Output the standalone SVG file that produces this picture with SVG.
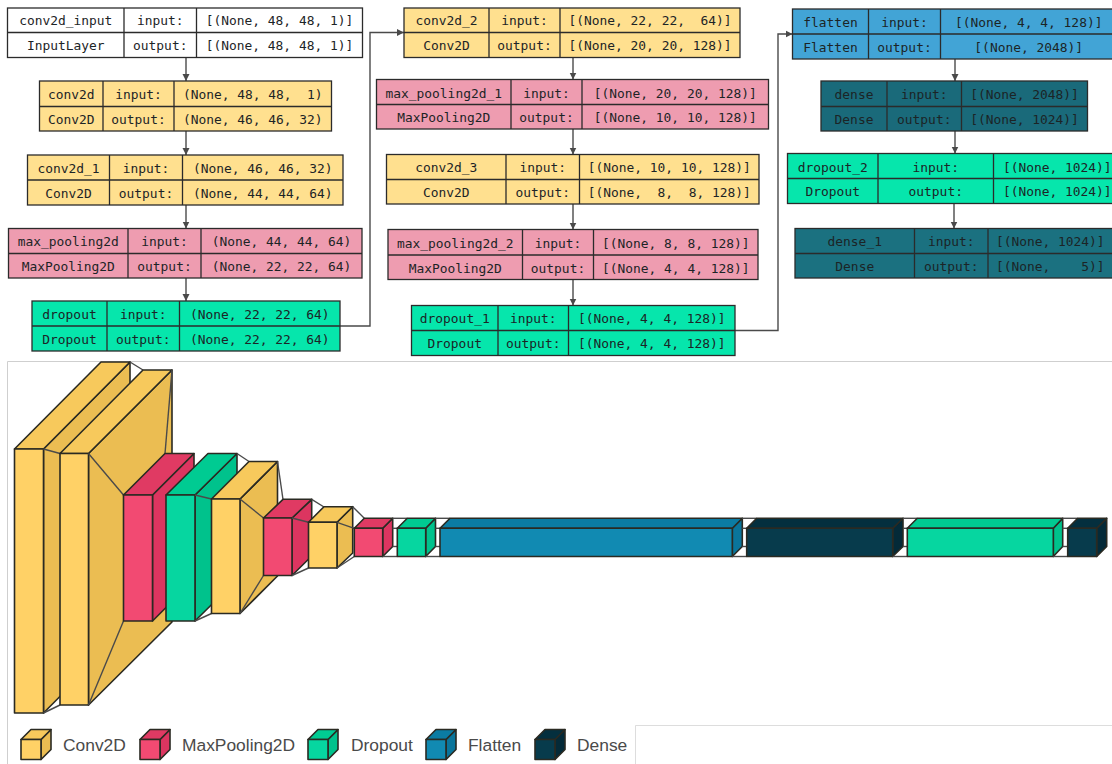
<svg xmlns="http://www.w3.org/2000/svg" width="1112" height="764" viewBox="0 0 1112 764">
<style>
text.t{font-family:"DejaVu Sans Mono","Liberation Mono",monospace;font-size:12.9px;fill:#1c2426;text-anchor:middle;white-space:pre}
text.l{font-family:"Liberation Sans",Arial,sans-serif;font-size:17.4px;fill:#4a4a4a}
.g rect,.g path{stroke:#2b2b2b;stroke-width:1.3}
.w{fill:#fff}.y{fill:#ffe08f}.p{fill:#ee9cb0}.d{fill:#06e6ac}.b{fill:#42a4d6}.k{fill:#1a6a7a}.k2{fill:#1b7180}
.c{fill:none;stroke:#4a4a4a;stroke-width:1.4}
.s polygon{stroke:#2a2a22;stroke-width:1.6;stroke-linejoin:round}
.s line{stroke:#4a4a4a;stroke-width:1.4}
.cf{fill:#ffd166}.ct{fill:#f7c95c}.cs{fill:#ebbd52}
.rf{fill:#f24a72}.rt{fill:#e03a63}.rs{fill:#dc3560}
.df{fill:#06d6a0}.dt{fill:#00cb92}.ds{fill:#00c28c}
.ff{fill:#118ab2}.ft{fill:#0b7ca3}.fs{fill:#0a759b}
.nf{fill:#073b4c}.nt{fill:#042f3e}.ns{fill:#042a38}
.frame{fill:none;stroke:#cfcfcf;stroke-width:1}
</style>
<defs>
<marker id="a" markerUnits="userSpaceOnUse" markerWidth="8" markerHeight="8" refX="7" refY="4" orient="auto"><path d="M0,0.5 L7,4 L0,7.5 Z" fill="#4a4a4a"/></marker>
</defs>
<rect width="1112" height="764" fill="#fff"/>

<g id="connectors">
<path class="c" marker-end="url(#a)" d="M186,57.5V81"/>
<path class="c" marker-end="url(#a)" d="M186,131V155"/>
<path class="c" marker-end="url(#a)" d="M186,205V228.5"/>
<path class="c" marker-end="url(#a)" d="M186,278V301"/>
<path class="c" marker-end="url(#a)" d="M340,326H370V32.5H404"/>
<path class="c" marker-end="url(#a)" d="M573,57.5V79.5"/>
<path class="c" marker-end="url(#a)" d="M573,129V154.5"/>
<path class="c" marker-end="url(#a)" d="M573,204V229.5"/>
<path class="c" marker-end="url(#a)" d="M573,279.5V305.5"/>
<path class="c" marker-end="url(#a)" d="M735,330.5H778V34H792.5"/>
<path class="c" marker-end="url(#a)" d="M955,59V81"/>
<path class="c" marker-end="url(#a)" d="M955,131V153.5"/>
<path class="c" marker-end="url(#a)" d="M954,203.5V228.5"/>
</g>

<g id="conv2d_input" class="g"><rect class="w" x="7.5" y="8" width="355" height="49.5"/><path d="M7.5,32.5H362.5M124,8V57.5M196.5,8V57.5"/>
<text class="t" x="65.75" y="25">conv2d_input</text><text class="t" x="160.25" y="25">input:</text><text class="t" x="279.5" y="25">[(None, 48, 48, 1)]</text>
<text class="t" x="65.75" y="50">InputLayer</text><text class="t" x="160.25" y="50">output:</text><text class="t" x="279.5" y="50">[(None, 48, 48, 1)]</text></g>

<g id="conv2d" class="g"><rect class="y" x="39.5" y="81" width="292" height="50"/><path d="M39.5,106.5H331.5M103,81V131M174,81V131"/>
<text class="t" x="71.25" y="99">conv2d</text><text class="t" x="138.5" y="99">input:</text><text class="t" x="252.75" y="99">(None, 48, 48,  1)</text>
<text class="t" x="71.25" y="124">Conv2D</text><text class="t" x="138.5" y="124">output:</text><text class="t" x="252.75" y="124">(None, 46, 46, 32)</text></g>

<g id="conv2d_1" class="g"><rect class="y" x="27.5" y="155" width="315.5" height="50"/><path d="M27.5,180H343M109.5,155V205M182.5,155V205"/>
<text class="t" x="68.5" y="172.5">conv2d_1</text><text class="t" x="146" y="172.5">input:</text><text class="t" x="262.75" y="172.5">(None, 46, 46, 32)</text>
<text class="t" x="68.5" y="197.5">Conv2D</text><text class="t" x="146" y="197.5">output:</text><text class="t" x="262.75" y="197.5">(None, 44, 44, 64)</text></g>

<g id="max_pooling2d" class="g"><rect class="p" x="8.5" y="228.5" width="353.5" height="49.5"/><path d="M8.5,253.5H362M128,228.5V278M201,228.5V278"/>
<text class="t" x="68.25" y="246">max_pooling2d</text><text class="t" x="164.5" y="246">input:</text><text class="t" x="281.5" y="246">(None, 44, 44, 64)</text>
<text class="t" x="68.25" y="271">MaxPooling2D</text><text class="t" x="164.5" y="271">output:</text><text class="t" x="281.5" y="271">(None, 22, 22, 64)</text></g>

<g id="dropout" class="g"><rect class="d" x="32" y="301" width="308" height="50"/><path d="M32,326H340M107,301V351M179.5,301V351"/>
<text class="t" x="69.5" y="319">dropout</text><text class="t" x="143.25" y="319">input:</text><text class="t" x="259.75" y="319">(None, 22, 22, 64)</text>
<text class="t" x="69.5" y="344">Dropout</text><text class="t" x="143.25" y="344">output:</text><text class="t" x="259.75" y="344">(None, 22, 22, 64)</text></g>

<g id="conv2d_2" class="g"><rect class="y" x="404" y="8" width="336" height="49.5"/><path d="M404,32.5H740M489,8V57.5M560,8V57.5"/>
<text class="t" x="446.5" y="25">conv2d_2</text><text class="t" x="524.5" y="25">input:</text><text class="t" x="650" y="25">[(None, 22, 22,  64)]</text>
<text class="t" x="446.5" y="50">Conv2D</text><text class="t" x="524.5" y="50">output:</text><text class="t" x="650" y="50">[(None, 20, 20, 128)]</text></g>

<g id="max_pooling2d_1" class="g"><rect class="p" x="376.5" y="79.5" width="392" height="49.5"/><path d="M376.5,104.5H768.5M511,79.5V129M582,79.5V129"/>
<text class="t" x="443.75" y="97.5">max_pooling2d_1</text><text class="t" x="546.5" y="97.5">input:</text><text class="t" x="675.25" y="97.5">[(None, 20, 20, 128)]</text>
<text class="t" x="443.75" y="122">MaxPooling2D</text><text class="t" x="546.5" y="122">output:</text><text class="t" x="675.25" y="122">[(None, 10, 10, 128)]</text></g>

<g id="conv2d_3" class="g"><rect class="y" x="386.5" y="154.5" width="372.5" height="49.5"/><path d="M386.5,179.5H759M506,154.5V204M579.5,154.5V204"/>
<text class="t" x="446.25" y="172">conv2d_3</text><text class="t" x="542.75" y="172">input:</text><text class="t" x="669.25" y="172">[(None, 10, 10, 128)]</text>
<text class="t" x="446.25" y="197">Conv2D</text><text class="t" x="542.75" y="197">output:</text><text class="t" x="669.25" y="197">[(None,  8,  8, 128)]</text></g>

<g id="max_pooling2d_2" class="g"><rect class="p" x="388" y="229.5" width="370" height="50"/><path d="M388,255H758M522.5,229.5V279.5M593.5,229.5V279.5"/>
<text class="t" x="455.25" y="248">max_pooling2d_2</text><text class="t" x="558" y="248">input:</text><text class="t" x="675.75" y="248">[(None, 8, 8, 128)]</text>
<text class="t" x="455.25" y="272.5">MaxPooling2D</text><text class="t" x="558" y="272.5">output:</text><text class="t" x="675.75" y="272.5">[(None, 4, 4, 128)]</text></g>

<g id="dropout_1" class="g"><rect class="d" x="411.5" y="305.5" width="323.5" height="50"/><path d="M411.5,330.5H735M498,305.5V355.5M568.5,305.5V355.5"/>
<text class="t" x="454.75" y="323">dropout_1</text><text class="t" x="533.25" y="323">input:</text><text class="t" x="651.75" y="323">[(None, 4, 4, 128)]</text>
<text class="t" x="454.75" y="348">Dropout</text><text class="t" x="533.25" y="348">output:</text><text class="t" x="651.75" y="348">[(None, 4, 4, 128)]</text></g>

<g id="flatten" class="g"><rect class="b" x="792.5" y="9" width="325" height="50"/><path d="M792.5,34H1117M868.5,9V59M940.5,9V59"/>
<text class="t" x="830.5" y="27">flatten</text><text class="t" x="904.5" y="27">input:</text><text class="t" x="1028.7" y="27">[(None, 4, 4, 128)]</text>
<text class="t" x="830.5" y="52">Flatten</text><text class="t" x="904.5" y="52">output:</text><text class="t" x="1028.7" y="52">[(None, 2048)]</text></g>

<g id="dense" class="g"><rect class="k" x="821" y="81" width="266.5" height="50"/><path d="M821,106.5H1087.5M887,81V131M961.5,81V131"/>
<text class="t" x="854" y="99">dense</text><text class="t" x="924.25" y="99">input:</text><text class="t" x="1024.5" y="99">[(None, 2048)]</text>
<text class="t" x="854" y="124">Dense</text><text class="t" x="924.25" y="124">output:</text><text class="t" x="1024.5" y="124">[(None, 1024)]</text></g>

<g id="dropout_2" class="g"><rect class="d" x="787.5" y="153.5" width="330" height="50"/><path d="M787.5,178.5H1117M878,153.5V203.5M993.5,153.5V203.5"/>
<text class="t" x="832.75" y="171.5">dropout_2</text><text class="t" x="935.75" y="171.5">input:</text><text class="t" x="1057.3" y="171.5">[(None, 1024)]</text>
<text class="t" x="832.75" y="196">Dropout</text><text class="t" x="935.75" y="196">output:</text><text class="t" x="1057.3" y="196">[(None, 1024)]</text></g>

<g id="dense_1" class="g"><rect class="k2" x="795" y="228.5" width="322" height="49.5"/><path d="M795,253.5H1117M914.5,228.5V278M988,228.5V278"/>
<text class="t" x="854.75" y="246">dense_1</text><text class="t" x="951.25" y="246">input:</text><text class="t" x="1050.3" y="246">[(None, 1024)]</text>
<text class="t" x="854.75" y="271">Dense</text><text class="t" x="951.25" y="271">output:</text><text class="t" x="1050.3" y="271">[(None,    5)]</text></g>

<path class="frame" d="M1112,361.5H7.5V764"/>
<path class="frame" d="M635.5,764V725.5H1112" stroke-opacity="0.7"/>

<g id="layers" class="s">
<polygon class="cs" points="43.5,449 130,362 130,626 43.5,713"/>
<polygon class="ct" points="14.5,449 101,362 130,362 43.5,449"/>
<polygon class="cf" points="14.5,449 43.5,449 43.5,713 14.5,713"/>
<line x1="130" y1="362" x2="143" y2="370"/><line x1="43.5" y1="449" x2="60" y2="453.5"/><line x1="43.5" y1="713" x2="60" y2="705"/>

<polygon class="cs" points="88.5,453.5 172,370 172,622 88.5,705"/>
<polygon class="ct" points="60,453.5 143,370 172,370 88.5,453.5"/>
<polygon class="cf" points="60,453.5 88.5,453.5 88.5,705 60,705"/>
<line x1="172" y1="370" x2="165" y2="453.5"/><line x1="88.5" y1="453.5" x2="123.5" y2="495"/><line x1="88.5" y1="705" x2="123.5" y2="621"/>

<polygon class="rs" points="152.5,495 194,453.5 194,579.5 152.5,621"/>
<polygon class="rt" points="123.5,495 165,453.5 194,453.5 152.5,495"/>
<polygon class="rf" points="123.5,495 152.5,495 152.5,621 123.5,621"/>

<polygon class="ds" points="195,495 237,453.5 237,579.5 195,621"/>
<polygon class="dt" points="166,495 208,453.5 237,453.5 195,495"/>
<polygon class="df" points="166,495 195,495 195,621 166,621"/>
<line x1="237" y1="453.5" x2="249" y2="461.5"/><line x1="195" y1="495" x2="211.5" y2="499"/><line x1="195" y1="621" x2="211.5" y2="613.5"/>

<polygon class="cs" points="240,499 277.5,461.5 277.5,576 240,613.5"/>
<polygon class="ct" points="211.5,499 249,461.5 277.5,461.5 240,499"/>
<polygon class="cf" points="211.5,499 240,499 240,613.5 211.5,613.5"/>
<line x1="277.5" y1="461.5" x2="283" y2="499.5"/><line x1="240" y1="499" x2="263.5" y2="518"/><line x1="240" y1="613.5" x2="263.5" y2="575.5"/>

<polygon class="rs" points="292,518 311.7,499.3 311.7,556 292,575.5"/>
<polygon class="rt" points="263.5,518 283,499.3 311.7,499.3 292,518"/>
<polygon class="rf" points="263.5,518 292,518 292,575.5 263.5,575.5"/>
<line x1="311.7" y1="499.3" x2="324" y2="507"/><line x1="292" y1="518" x2="308.5" y2="522.3"/><line x1="292" y1="575.5" x2="308.5" y2="568"/>

<polygon class="cs" points="337,522.3 352.7,506.7 352.7,553 337,568"/>
<polygon class="ct" points="308.5,522.3 324,506.7 352.7,506.7 337,522.3"/>
<polygon class="cf" points="308.5,522.3 337,522.3 337,568 308.5,568"/>
<line x1="352.7" y1="506.7" x2="364.3" y2="518.3"/><line x1="337" y1="522.3" x2="354.3" y2="528.3"/><line x1="337" y1="568" x2="354.3" y2="556.5"/>

<polygon class="rs" points="382.7,528.3 392.7,518.3 392.7,546.5 382.7,556.5"/>
<polygon class="rt" points="354.3,528.3 364.3,518.3 392.7,518.3 382.7,528.3"/>
<polygon class="rf" points="354.3,528.3 382.7,528.3 382.7,556.5 354.3,556.5"/>
<line x1="392.7" y1="518.3" x2="407.3" y2="518.3"/><line x1="382.7" y1="556.5" x2="397.3" y2="556.5"/><line x1="392.7" y1="528.3" x2="397.3" y2="528.3"/><line x1="392.7" y1="546.5" x2="397.3" y2="546.5"/>

<polygon class="ds" points="425.7,528.3 435.5,518.3 435.5,546.5 425.7,556.5"/>
<polygon class="dt" points="397.3,528.3 407.3,518.3 435.5,518.3 425.7,528.3"/>
<polygon class="df" points="397.3,528.3 425.7,528.3 425.7,556.5 397.3,556.5"/>
<line x1="435.5" y1="518.3" x2="450" y2="518.3"/><line x1="425.7" y1="556.5" x2="440" y2="556.5"/><line x1="435.5" y1="528.3" x2="440" y2="528.3"/><line x1="435.5" y1="546.5" x2="440" y2="546.5"/>

<polygon class="fs" points="732.3,528.3 742.3,518.3 742.3,546.5 732.3,556.5"/>
<polygon class="ft" points="440,528.3 450,518.3 742.3,518.3 732.3,528.3"/>
<polygon class="ff" points="440,528.3 732.3,528.3 732.3,556.5 440,556.5"/>
<line x1="742.3" y1="518.3" x2="756.7" y2="518.3"/><line x1="732.3" y1="556.5" x2="746.7" y2="556.5"/><line x1="742.3" y1="528.3" x2="746.7" y2="528.3"/><line x1="742.3" y1="546.5" x2="746.7" y2="546.5"/>

<polygon class="ns" points="892.7,528.3 903,518.3 903,546.5 892.7,556.5"/>
<polygon class="nt" points="746.7,528.3 756.7,518.3 903,518.3 892.7,528.3"/>
<polygon class="nf" points="746.7,528.3 892.7,528.3 892.7,556.5 746.7,556.5"/>
<line x1="903" y1="518.3" x2="917.3" y2="518.3"/><line x1="892.7" y1="556.5" x2="907.3" y2="556.5"/><line x1="903" y1="528.3" x2="907.3" y2="528.3"/><line x1="903" y1="546.5" x2="907.3" y2="546.5"/>

<polygon class="ds" points="1053.3,528.3 1062.7,518.3 1062.7,546.5 1053.3,556.5"/>
<polygon class="dt" points="907.3,528.3 917.3,518.3 1062.7,518.3 1053.3,528.3"/>
<polygon class="df" points="907.3,528.3 1053.3,528.3 1053.3,556.5 907.3,556.5"/>
<line x1="1062.7" y1="518.3" x2="1077.7" y2="518.3"/><line x1="1053.3" y1="556.5" x2="1067.7" y2="556.5"/><line x1="1062.7" y1="528.3" x2="1067.7" y2="528.3"/><line x1="1062.7" y1="546.5" x2="1067.7" y2="546.5"/>

<polygon class="ns" points="1096.7,528.3 1106.7,518.3 1106.7,546.5 1096.7,556.5"/>
<polygon class="nt" points="1067.7,528.3 1077.7,518.3 1106.7,518.3 1096.7,528.3"/>
<polygon class="nf" points="1067.7,528.3 1096.7,528.3 1096.7,556.5 1067.7,556.5"/>
</g>

<g id="legend" class="s">
<polygon class="cs" points="41,739.5 51,729.5 51,749.5 41,759.5"/><polygon class="ct" points="21,739.5 31,729.5 51,729.5 41,739.5"/><polygon class="cf" points="21,739.5 41,739.5 41,759.5 21,759.5"/>
<text class="l" x="63" y="751">Conv2D</text>
<polygon class="rs" points="160,739.5 170,729.5 170,749.5 160,759.5"/><polygon class="rt" points="140,739.5 150,729.5 170,729.5 160,739.5"/><polygon class="rf" points="140,739.5 160,739.5 160,759.5 140,759.5"/>
<text class="l" x="182" y="751">MaxPooling2D</text>
<polygon class="ds" points="328,739.5 338,729.5 338,749.5 328,759.5"/><polygon class="dt" points="308,739.5 318,729.5 338,729.5 328,739.5"/><polygon class="df" points="308,739.5 328,739.5 328,759.5 308,759.5"/>
<text class="l" x="351" y="751">Dropout</text>
<polygon class="fs" points="446,739.5 456,729.5 456,749.5 446,759.5"/><polygon class="ft" points="426,739.5 436,729.5 456,729.5 446,739.5"/><polygon class="ff" points="426,739.5 446,739.5 446,759.5 426,759.5"/>
<text class="l" x="468" y="751">Flatten</text>
<polygon class="ns" points="555,739.5 565,729.5 565,749.5 555,759.5"/><polygon class="nt" points="535,739.5 545,729.5 565,729.5 555,739.5"/><polygon class="nf" points="535,739.5 555,739.5 555,759.5 535,759.5"/>
<text class="l" x="577" y="751">Dense</text>
</g>
</svg>
